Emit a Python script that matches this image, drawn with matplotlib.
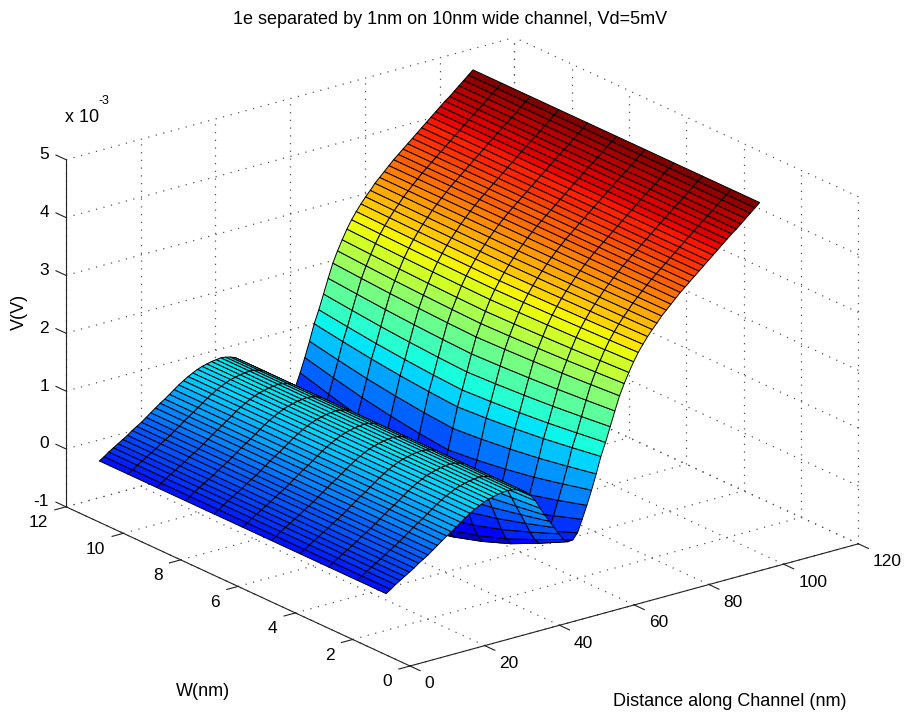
import numpy as np
import matplotlib
matplotlib.use("Agg")
import matplotlib.pyplot as plt
from matplotlib.colors import Normalize
from mpl_toolkits.mplot3d import proj3d

plt.rcParams['font.family'] = ['Liberation Sans', 'DejaVu Sans']

title = "1e separated by 1nm on 10nm wide channel, Vd=5mV"
x_ticks = [0, 20, 40, 60, 80, 100, 120]
w_ticks = [0, 2, 4, 6, 8, 10, 12]
z_ticks = [-1, 0, 1, 2, 3, 4, 5]

# Distance along channel (nm), every 1.25 nm
channel_x = np.linspace(1.25, 101.25, 81)
# Width positions of the mesh (nm)
width_w = [1, 2, 3, 4, 5, 6, 7, 8, 9, 10, 11]
# Potential (mV) along the channel edge
edge_profile = [
    0.00, 0.05, 0.11, 0.16, 0.21, 0.26, 0.31, 0.37, 0.42, 0.47,
    0.53, 0.59, 0.65, 0.71, 0.76, 0.82, 0.88, 0.94, 0.99, 1.04,
    1.08, 1.12, 1.15, 1.17, 1.19, 1.20, 1.21, 1.20, 1.18, 1.15,
    1.09, 1.01, 0.90, 0.75, 0.61, 0.48, 0.35, 0.22, 0.10, 0.04,
    0.05, 0.15, 0.36, 0.58, 0.82, 1.08, 1.36, 1.58, 1.83, 2.08,
    2.32, 2.51, 2.68, 2.84, 2.98, 3.10, 3.21, 3.31, 3.40, 3.50,
    3.58, 3.66, 3.74, 3.82, 3.89, 3.96, 4.03, 4.10, 4.17, 4.24,
    4.31, 4.38, 4.45, 4.52, 4.59, 4.65, 4.72, 4.79, 4.86, 4.93,
    5.00]
# Depth (mV) of the well at mid-width, along the channel
well_depth = [
    0, 0, 0, 0, 0, 0, 0, 0, 0, 0,
    0, 0, 0, 0, 0, 0, 0, 0, 0, 0,
    0, 0, 0, 0, 0, 0, 0, 0, 0, 0,
    0, 0.03, 0.08, 0.16, 0.28, 0.42, 0.58, 0.74, 0.86, 0.95,
    0.90, 0.74, 0.62, 0.53, 0.45, 0.36, 0.29, 0.24, 0.20, 0.16,
    0.13, 0.11, 0.09, 0.07, 0.06, 0.05, 0.04, 0.03, 0.02, 0.02,
    0.01, 0, 0, 0, 0, 0, 0, 0, 0, 0,
    0, 0, 0, 0, 0, 0, 0, 0, 0, 0,
    0]
# Fraction of the well depth at each width position
well_shape = [0, 0.27, 0.52, 0.72, 0.88, 1.0, 0.88, 0.72, 0.52, 0.27, 0]

W_px, H_px = 906, 712
fig = plt.figure(figsize=(W_px / 100, H_px / 100), dpi=100, facecolor='white')
ax = fig.add_axes([0.1, 0.1, 0.8, 0.8], projection='3d')
ax.set_proj_type('ortho')
ax.view_init(elev=20.8, azim=-127.5)
ax.set_xlim(0, 120, view_margin=0)
ax.set_ylim(0, 12, view_margin=0)
ax.set_zlim(-1, 5, view_margin=0)
ax.set_box_aspect((1, 1, 0.657))
ax.set_axis_off()
ax.computed_zorder = False

X, Y = np.meshgrid(channel_x, width_w)
Z = np.outer(np.ones(len(width_w)), edge_profile) - np.outer(well_shape, well_depth)
# Flat shading: each cell takes the colour of its first vertex
jet = plt.get_cmap('jet', 64)
cell_colors = jet(Normalize(Z.min(), Z.max())(Z))
surf = ax.plot_surface(X, Y, Z, rstride=1, cstride=1, facecolors=cell_colors,
                       shade=False, linewidth=0.7, antialiased=True, zorder=3)
surf.set_edgecolor('black')

grid_style = dict(color='#555555', lw=0.9, ls=(0, (1, 5.2)), zorder=1)
xm, wm, zb, zt = x_ticks[-1], w_ticks[-1], z_ticks[0], z_ticks[-1]
for v in x_ticks:
    ax.plot([v, v], [0, wm], [zb, zb], **grid_style)
    ax.plot([v, v], [wm, wm], [zb, zt], **grid_style)
for v in w_ticks:
    ax.plot([0, xm], [v, v], [zb, zb], **grid_style)
    ax.plot([xm, xm], [v, v], [zb, zt], **grid_style)
for v in z_ticks:
    ax.plot([0, xm], [wm, wm], [v, v], **grid_style)
    ax.plot([xm, xm], [0, wm], [v, v], **grid_style)

axis_style = dict(color='#222222', lw=0.8, zorder=2)
ax.plot([0, xm], [0, 0], [zb, zb], **axis_style)
ax.plot([0, 0], [0, wm], [zb, zb], **axis_style)
ax.plot([0, 0], [wm, wm], [zb, zt], **axis_style)
for v in x_ticks:
    ax.plot([v, v], [0, -0.35], [zb, zb], **axis_style)
for v in w_ticks:
    ax.plot([0, -3.0], [v, v], [zb, zb], **axis_style)
for v in z_ticks:
    ax.plot([0, 0], [wm, wm + 0.35], [v, v], **axis_style)

M = ax.get_proj()
def project(x, y, z):
    u, v, _ = proj3d.proj_transform(x, y, z, M)
    return float(u), float(v)

# Fit the axes box so the plot box corners land where they are in the reference
xmin2, xmax2 = ax.viewLim.intervalx
ymin2, ymax2 = ax.viewLim.intervaly
u_l, _ = project(0, wm, zb)
u_r, _ = project(xm, 0, zb)
_, v_f = project(0, 0, zb)
_, v_t = project(xm, wm, zt)
scale = (859 - 66) / (u_r - u_l)
scale_v = ((712 - 38) - (712 - 666)) / (v_t - v_f)
scale = 0.5 * (scale + scale_v)
S = scale * (xmax2 - xmin2)
left = 66 - scale * (u_l - xmin2)
bottom = (712 - 666) - scale * (v_f - ymin2)
ax.set_position([left / W_px, bottom / H_px, S / W_px, S / H_px])

tick_fs = 12.5
def tick_label(text, pos, dx, dy, ha):
    ax.annotate(text, xy=project(*pos), xycoords='data', xytext=(dx, dy),
                textcoords='offset pixels', ha=ha, va='center',
                fontsize=tick_fs, color='black', annotation_clip=False)

for v in x_ticks:
    tick_label(str(v), (v, 0, zb), 14.5, -18, 'left')
for v in w_ticks:
    tick_label(str(v), (0, v, zb), -18, -15.7, 'right')
for v in z_ticks:
    tick_label(str(v), (0, wm, v), -17, 5, 'right')

def fig_text(px, py, s, **kw):
    fig.text(px / W_px, 1 - py / H_px, s, **kw)

label_fs = 13
fig_text(450, 20, title, ha='center', va='center', fontsize=label_fs)
fig_text(19, 312, "V(V)", ha='center', va='center', rotation=90, fontsize=label_fs)
fig_text(203, 692, "W(nm)", ha='center', va='center', fontsize=label_fs)
fig_text(730, 701, "Distance along Channel (nm)", ha='center', va='center', fontsize=label_fs)
fig_text(65, 117, "x 10", ha='left', va='center', fontsize=label_fs)
fig_text(104, 101, "-3", ha='center', va='center', fontsize=9)

fig.savefig('out.png', dpi=100)
